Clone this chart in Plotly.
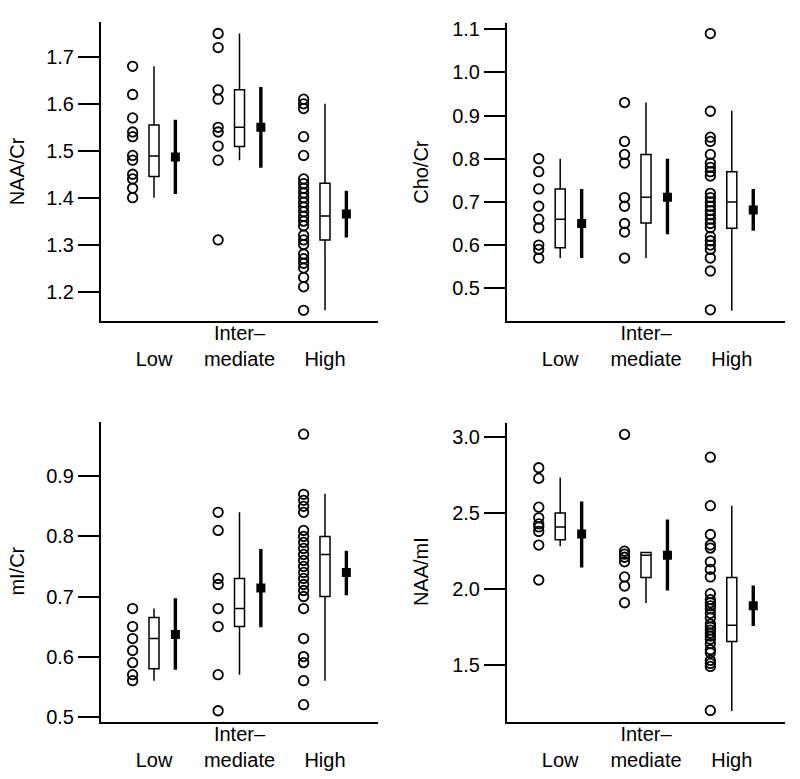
import plotly.graph_objects as go

# ---------------- data ----------------
groups = ["Low", "Intermediate", "High"]
group_pos = [1, 2, 3]
tick_text = ["<br>Low", "Inter–<br>mediate", "<br>High"]

# NAA/Cr
naa_cr_low = [1.68, 1.62, 1.57, 1.54, 1.53, 1.49, 1.48, 1.45, 1.44, 1.42, 1.40]
naa_cr_int = [1.75, 1.72, 1.63, 1.61, 1.55, 1.54, 1.51, 1.48, 1.31]
naa_cr_high = [1.61, 1.60, 1.59, 1.53, 1.49, 1.44, 1.43, 1.42, 1.41, 1.40, 1.39, 1.38,
               1.37, 1.36, 1.35, 1.34, 1.32, 1.31, 1.30, 1.28, 1.27, 1.26, 1.25, 1.23,
               1.21, 1.16]
naa_cr_q1 = [1.445, 1.509, 1.31]
naa_cr_med = [1.489, 1.55, 1.361]
naa_cr_q3 = [1.555, 1.63, 1.431]
naa_cr_wlo = [1.40, 1.48, 1.16]
naa_cr_whi = [1.68, 1.75, 1.60]
naa_cr_mean = [1.487, 1.55, 1.365]
naa_cr_cilo = [1.408, 1.464, 1.315]
naa_cr_cihi = [1.566, 1.636, 1.415]

# Cho/Cr
cho_cr_low = [0.80, 0.77, 0.73, 0.69, 0.66, 0.64, 0.60, 0.59, 0.57]
cho_cr_int = [0.93, 0.84, 0.81, 0.79, 0.71, 0.69, 0.65, 0.63, 0.57]
cho_cr_high = [1.09, 0.91, 0.85, 0.84, 0.81, 0.79, 0.78, 0.77, 0.76, 0.72, 0.71, 0.70,
               0.69, 0.68, 0.67, 0.66, 0.65, 0.64, 0.62, 0.61, 0.60, 0.59, 0.57, 0.54,
               0.45]
cho_cr_q1 = [0.594, 0.651, 0.639]
cho_cr_med = [0.66, 0.711, 0.70]
cho_cr_q3 = [0.73, 0.81, 0.77]
cho_cr_wlo = [0.57, 0.57, 0.448]
cho_cr_whi = [0.80, 0.93, 0.911]
cho_cr_mean = [0.65, 0.711, 0.681]
cho_cr_cilo = [0.57, 0.625, 0.633]
cho_cr_cihi = [0.73, 0.80, 0.73]

# mI/Cr
mi_cr_low = [0.68, 0.65, 0.63, 0.61, 0.59, 0.57, 0.56]
mi_cr_int = [0.84, 0.81, 0.73, 0.72, 0.68, 0.65, 0.57, 0.51]
mi_cr_high = [0.97, 0.87, 0.86, 0.85, 0.84, 0.81, 0.80, 0.79, 0.78, 0.77, 0.76, 0.75,
              0.74, 0.73, 0.72, 0.71, 0.70, 0.68, 0.63, 0.60, 0.59, 0.56, 0.52]
mi_cr_q1 = [0.58, 0.65, 0.70]
mi_cr_med = [0.63, 0.68, 0.77]
mi_cr_q3 = [0.665, 0.73, 0.80]
mi_cr_wlo = [0.56, 0.57, 0.56]
mi_cr_whi = [0.68, 0.84, 0.871]
mi_cr_mean = [0.637, 0.714, 0.74]
mi_cr_cilo = [0.578, 0.649, 0.702]
mi_cr_cihi = [0.697, 0.779, 0.776]

# NAA/mI
naa_mi_low = [2.80, 2.73, 2.54, 2.47, 2.43, 2.41, 2.38, 2.29, 2.06]
naa_mi_int = [3.02, 2.25, 2.23, 2.21, 2.18, 2.08, 2.02, 1.91]
naa_mi_high = [2.87, 2.55, 2.36, 2.29, 2.27, 2.18, 2.13, 2.08, 1.97, 1.93, 1.91, 1.89,
               1.87, 1.84, 1.81, 1.77, 1.75, 1.73, 1.71, 1.69, 1.67, 1.64, 1.60, 1.58,
               1.53, 1.51, 1.49, 1.20]
naa_mi_q1 = [2.326, 2.076, 1.654]
naa_mi_med = [2.409, 2.224, 1.761]
naa_mi_q3 = [2.502, 2.241, 2.076]
naa_mi_wlo = [2.283, 1.909, 1.196]
naa_mi_whi = [2.735, 2.241, 2.55]
naa_mi_mean = [2.363, 2.224, 1.891]
naa_mi_cilo = [2.143, 1.991, 1.757]
naa_mi_cihi = [2.578, 2.459, 2.024]

panels = [
    dict(title="NAA/Cr", pts=[naa_cr_low, naa_cr_int, naa_cr_high],
         q1=naa_cr_q1, med=naa_cr_med, q3=naa_cr_q3, wlo=naa_cr_wlo, whi=naa_cr_whi,
         mean=naa_cr_mean, cilo=naa_cr_cilo, cihi=naa_cr_cihi,
         yrange=[1.1374, 1.775], ytick=[1.2, 1.3, 1.4, 1.5, 1.6, 1.7]),
    dict(title="Cho/Cr", pts=[cho_cr_low, cho_cr_int, cho_cr_high],
         q1=cho_cr_q1, med=cho_cr_med, q3=cho_cr_q3, wlo=cho_cr_wlo, whi=cho_cr_whi,
         mean=cho_cr_mean, cilo=cho_cr_cilo, cihi=cho_cr_cihi,
         yrange=[0.4244, 1.115], ytick=[0.5, 0.6, 0.7, 0.8, 0.9, 1.0, 1.1]),
    dict(title="mI/Cr", pts=[mi_cr_low, mi_cr_int, mi_cr_high],
         q1=mi_cr_q1, med=mi_cr_med, q3=mi_cr_q3, wlo=mi_cr_wlo, whi=mi_cr_whi,
         mean=mi_cr_mean, cilo=mi_cr_cilo, cihi=mi_cr_cihi,
         yrange=[0.4918, 0.991], ytick=[0.5, 0.6, 0.7, 0.8, 0.9]),
    dict(title="NAA/mI", pts=[naa_mi_low, naa_mi_int, naa_mi_high],
         q1=naa_mi_q1, med=naa_mi_med, q3=naa_mi_q3, wlo=naa_mi_wlo, whi=naa_mi_whi,
         mean=naa_mi_mean, cilo=naa_mi_cilo, cihi=naa_mi_cihi,
         yrange=[1.126, 3.098], ytick=[1.5, 2.0, 2.5, 3.0]),
]

# ---------------- layout geometry ----------------
W, H = 800, 779
FONT = "Liberation Sans, Arial, Helvetica, sans-serif"
x_domains = [[101 / W, 378 / W], [507 / W, 785 / W], [101 / W, 378 / W], [507 / W, 785 / W]]
y_domains = [[1 - 321 / H, 1 - 18 / H], [1 - 321 / H, 1 - 19 / H],
             [1 - 727 / H, 1 - 423 / H], [1 - 727 / H, 1 - 424 / H]]
title_x = [17 / W, 421 / W, 17 / W, 421 / W]

fig = go.Figure()
layout = dict(
    width=W, height=H, margin=dict(l=0, r=0, t=0, b=0),
    paper_bgcolor="white", plot_bgcolor="white", showlegend=False,
    font=dict(family=FONT, size=20, color="black"),
    annotations=[],
)

for i, p in enumerate(panels):
    n = "" if i == 0 else str(i + 1)
    xa, ya = "x" + n, "y" + n
    # raw points
    xs, ys = [], []
    for g, vals in zip(group_pos, p["pts"]):
        xs += [g - 0.25] * len(vals)
        ys += vals
    fig.add_trace(go.Scatter(
        x=xs, y=ys, mode="markers", xaxis=xa, yaxis=ya,
        marker=dict(symbol="circle-open", size=9.5, color="black",
                    line=dict(width=1.8, color="black")),
        hoverinfo="y"))
    # box plots from summary stats
    fig.add_trace(go.Box(
        x=group_pos, q1=p["q1"], median=p["med"], q3=p["q3"],
        lowerfence=p["wlo"], upperfence=p["whi"], xaxis=xa, yaxis=ya,
        width=0.117, whiskerwidth=0, fillcolor="white",
        line=dict(color="black", width=1.5), boxpoints=False))
    # means with intervals
    fig.add_trace(go.Scatter(
        x=[g + 0.25 for g in group_pos], y=p["mean"], mode="markers",
        xaxis=xa, yaxis=ya,
        marker=dict(symbol="square", size=9, color="black"),
        error_y=dict(type="data", symmetric=False,
                     array=[h - m for h, m in zip(p["cihi"], p["mean"])],
                     arrayminus=[m - l for m, l in zip(p["mean"], p["cilo"])],
                     thickness=3.4, width=0, color="black")))

    layout["xaxis" + n] = dict(
        domain=x_domains[i], anchor=ya, range=[0.38, 3.62],
        showline=True, linewidth=2, linecolor="black", mirror=False,
        ticks="", tickvals=group_pos, ticktext=tick_text, ticklabelstandoff=-7,
        tickfont=dict(family=FONT, size=20, color="black"),
        showgrid=False, zeroline=False, fixedrange=True)
    layout["yaxis" + n] = dict(
        domain=y_domains[i], anchor=xa, range=p["yrange"],
        showline=True, linewidth=2, linecolor="black",
        ticks="outside", ticklen=21, tickwidth=2, tickcolor="black",
        tickvals=p["ytick"], ticktext=["%.1f" % v for v in p["ytick"]],
        tickfont=dict(family=FONT, size=20, color="black"),
        showgrid=False, zeroline=False, fixedrange=True)
    layout["annotations"].append(dict(
        text=p["title"], xref="paper", yref="paper",
        x=title_x[i], y=sum(y_domains[i]) / 2, textangle=-90,
        showarrow=False, xanchor="center", yanchor="middle",
        font=dict(family=FONT, size=20, color="black")))

fig.update_layout(**layout)
fig.write_html(
    "out.html",
    config={"displayModeBar": False},
    post_script="document.body.style.margin='0';document.body.style.overflow='hidden';",
)
